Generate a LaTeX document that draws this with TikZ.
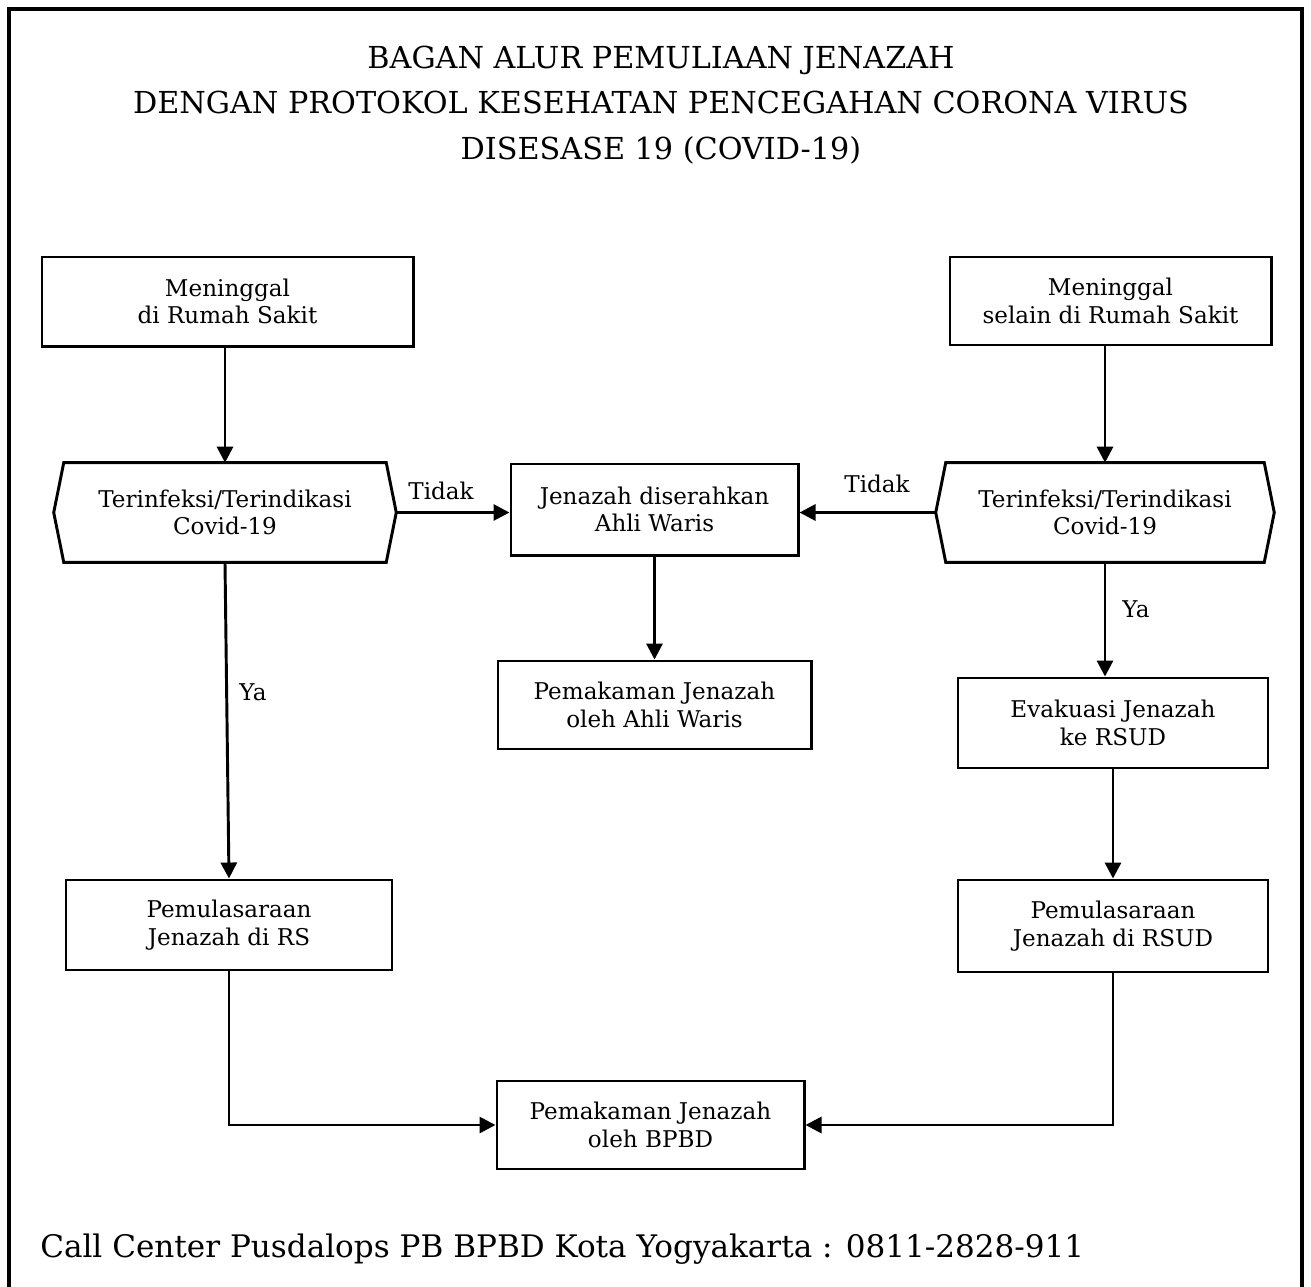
\documentclass[tikz,border=0pt]{standalone}
\usepackage{fontspec}
\setmainfont{DejaVu Serif}
\usetikzlibrary{arrows.meta}

\newcommand\bodyfont{\fontsize{17.3}{20.5}\selectfont}

\tikzset{
  box/.style={draw, line width=2.2pt, align=center, font=\bodyfont, inner sep=0pt},
  hexa/.style={align=center, font=\bodyfont, inner sep=0pt, minimum height=74.3pt},
  flow/.style={line width=2.2pt, -{Triangle[length=12pt,width=12pt]}},
  lbl/.style={font=\bodyfont, inner sep=0pt},
}

\begin{document}
\begin{tikzpicture}[x=0.75pt,y=0.75pt,yscale=-1,xscale=1]
\useasboundingbox (0,0) rectangle (1311,1286);

% Frame
\draw [line width=2.4pt] (9,1290) -- (9,9) -- (1302,9) -- (1302,1290);

% Title
\node (title) [font=\fontsize{22.7}{34}\selectfont, align=center] at (661,105)
  {BAGAN ALUR PEMULIAAN JENAZAH\\
   DENGAN PROTOKOL KESEHATAN PENCEGAHAN CORONA VIRUS\\
   DISESASE 19 (COVID-19)};

% Boxes
\node (msakit) [box, minimum width=278.3pt, minimum height=66.8pt] at (227.5,301.5)
  {Meninggal\\di Rumah Sakit};
\node (mselain) [box, minimum width=240.8pt, minimum height=66pt] at (1110.5,301)
  {Meninggal\\selain di Rumah Sakit};
\node (hl) [hexa, minimum width=256.5pt] at (225,512.5)
  {Terinfeksi/Terindikasi\\Covid-19};
\node (hr) [hexa, minimum width=253.5pt] at (1105,512.5)
  {Terinfeksi/Terindikasi\\Covid-19};
\node (ahli) [box, minimum width=215.3pt, minimum height=68.3pt] at (654.5,509.5)
  {Jenazah diserahkan\\Ahli Waris};
\node (makamahli) [box, minimum width=234.8pt, minimum height=66pt] at (654.5,705)
  {Pemakaman Jenazah\\oleh Ahli Waris};
\node (evak) [box, minimum width=232.5pt, minimum height=67.5pt] at (1113,723)
  {Evakuasi Jenazah\\ke RSUD};
\node (pulrs) [box, minimum width=244.5pt, minimum height=67.5pt] at (229,925)
  {Pemulasaraan\\Jenazah di RS};
\node (pulrsud) [box, minimum width=232.5pt, minimum height=69pt] at (1113,926)
  {Pemulasaraan\\Jenazah di RSUD};
\node (bpbd) [box, minimum width=230.3pt, minimum height=66pt] at (650.5,1125)
  {Pemakaman Jenazah\\oleh BPBD};

% Hexagons
\draw [line width=2.2pt] ([xshift=7.5pt]hl.north west) -- ([xshift=-7.5pt]hl.north east) -- (hl.east)
  -- ([xshift=-7.5pt]hl.south east) -- ([xshift=7.5pt]hl.south west) -- (hl.west) -- cycle;
\draw [line width=2.2pt] ([xshift=7.5pt]hr.north west) -- ([xshift=-7.5pt]hr.north east) -- (hr.east)
  -- ([xshift=-7.5pt]hr.south east) -- ([xshift=7.5pt]hr.south west) -- (hr.west) -- cycle;

% Connectors
\draw [flow] (msakit.south -| hl.north) -- (hl.north);
\draw [flow] (mselain.south -| hr.north) -- (hr.north);
\draw [flow] (hl.east) -- (hl.east -| ahli.west);
\draw [flow] (hr.west) -- (hr.west -| ahli.east);
\draw [flow] (ahli.south) -- (makamahli.north);
\draw [flow] (hl.south) -- (pulrs.north);
\draw [flow] (hr.south) -- (hr.south |- evak.north);
\draw [flow] (evak.south) -- (pulrsud.north);
\draw [flow] (pulrs.south) |- (bpbd.west);
\draw [flow] (pulrsud.south) |- (bpbd.east);

% Text Node
\node (tidakl) [lbl] at (441,491) {Tidak};
\node (tidakr) [lbl] at (877,484) {Tidak};
\node (yal) [lbl] at (253,692) {Ya};
\node (yar) [lbl] at (1136,609) {Ya};

% Footer
\node (callc) [font=\fontsize{23.3}{28}\selectfont, anchor=base west, inner sep=0pt] at (40,1257)
  {Call Center Pusdalops PB BPBD Kota Yogyakarta : 0811-2828-911};

\end{tikzpicture}
\end{document}
